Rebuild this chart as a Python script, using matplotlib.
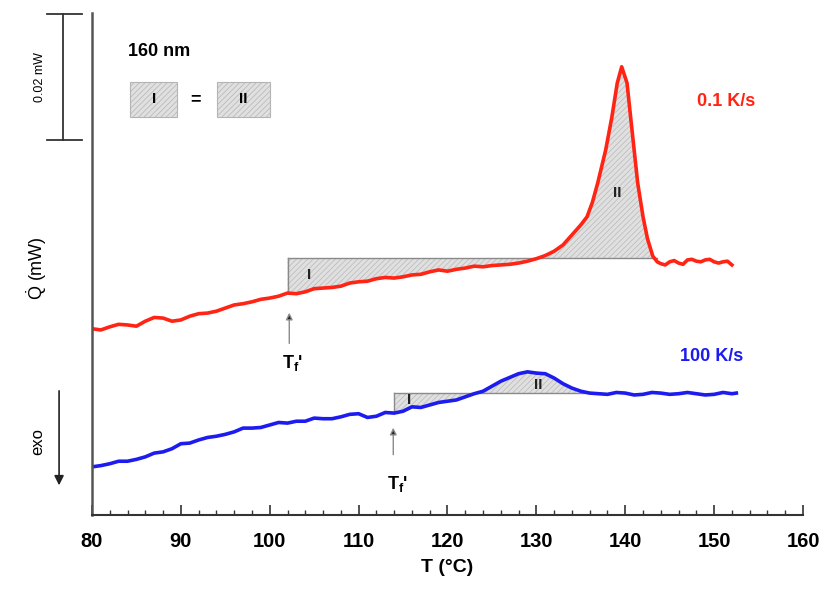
import numpy as np
import matplotlib
matplotlib.use("Agg")
import matplotlib.pyplot as plt
from matplotlib.patches import Rectangle

plt.rcParams['font.family'] = ['Liberation Sans', 'DejaVu Sans']
plt.rcParams['mathtext.fontset'] = 'custom'
plt.rcParams['mathtext.rm'] = 'Liberation Sans'
plt.rcParams['mathtext.it'] = 'Liberation Sans:italic'
plt.rcParams['mathtext.bf'] = 'Liberation Sans:bold'
plt.rcParams['hatch.linewidth'] = 0.5

# temperature (deg C) and heat flow (uW, relative)
temp_red = np.array([80, 81, 82, 83, 84, 85, 86, 87, 88, 89, 90, 91, 92, 93, 94, 95, 96, 97,
                     98, 99, 100, 101, 102, 103, 104, 105, 106, 107, 108, 109, 110, 111, 112,
                     113, 114, 115, 116, 117, 118, 119, 120, 121, 122, 123, 124, 125, 126,
                     127, 128, 129, 130, 131, 132, 133, 134, 135, 135.7, 136.3, 136.9, 137.8,
                     138.5, 139.1, 139.6, 140.2, 140.6, 141.0, 141.4, 142.0, 142.5, 143.1,
                     143.6, 144, 144.5, 145, 145.5, 146, 146.5, 147, 147.5, 148, 148.5, 149,
                     149.5, 150, 150.5, 151, 151.5, 152])
q_red = np.array([29.8, 29.6, 30.1, 30.5, 30.4, 30.2, 31.0, 31.6, 31.5, 31.0, 31.2, 31.8,
                  32.2, 32.3, 32.6, 33.1, 33.6, 33.8, 34.1, 34.5, 34.7, 35.0, 35.5, 35.4,
                  35.7, 36.2, 36.3, 36.4, 36.6, 37.1, 37.3, 37.4, 37.8, 38.0, 37.9, 38.1,
                  38.4, 38.5, 38.9, 39.2, 39.0, 39.3, 39.5, 39.8, 39.7, 39.9, 40.0, 40.1,
                  40.3, 40.6, 41.0, 41.5, 42.2, 43.2, 44.8, 46.4, 47.7, 50.0, 53.1, 58.4,
                  63.7, 69.1, 71.7, 69.1, 63.7, 58.4, 53.1, 47.7, 44.2, 41.4, 40.5, 40.2,
                  40.0, 40.5, 40.7, 40.3, 40.1, 40.8, 40.9, 40.6, 40.5, 40.8, 40.9, 40.5,
                  40.3, 40.5, 40.6, 40.0])

temp_blue = np.array([80, 81, 82, 83, 84, 85, 86, 87, 88, 89, 90, 91, 92, 93, 94, 95, 96, 97,
                      98, 99, 100, 101, 102, 103, 104, 105, 106, 107, 108, 109, 110, 111, 112,
                      113, 114, 115, 116, 117, 118, 119, 120, 121, 122, 123, 124, 125, 126,
                      127, 128, 129, 130, 131, 132, 133, 134, 135, 136, 137, 138, 139, 140,
                      141, 142, 143, 144, 145, 146, 147, 148, 149, 150, 151, 152, 152.5])
q_blue = np.array([7.7, 7.9, 8.2, 8.6, 8.6, 8.9, 9.3, 9.9, 10.1, 10.6, 11.4, 11.5, 12.0,
                   12.4, 12.6, 12.9, 13.3, 13.9, 13.9, 14.0, 14.4, 14.8, 14.7, 15.0, 15.0,
                   15.5, 15.4, 15.4, 15.7, 16.1, 16.2, 15.6, 15.8, 16.4, 16.3, 16.6, 17.3,
                   17.2, 17.6, 18.0, 18.2, 18.4, 18.9, 19.4, 19.8, 20.6, 21.4, 22.0, 22.6,
                   22.9, 22.7, 22.6, 21.9, 21.0, 20.3, 19.8, 19.5, 19.4, 19.3, 19.6, 19.5,
                   19.2, 19.3, 19.6, 19.5, 19.3, 19.4, 19.6, 19.4, 19.2, 19.3, 19.6, 19.4,
                   19.5])

# fictive temperatures and baselines used for area I / area II
tf_red, base_red, end_red = 102, 41.1, 143.6
tf_blue, base_blue, end_blue = 114, 19.5, 136

red = '#ff2414'
blue = '#1c1cf0'
fill_kw = dict(facecolor='#e0e0e0', edgecolor='#b8b8b8', hatch='//////', linewidth=0, interpolate=True)

fig = plt.figure(figsize=(8.33, 5.91), dpi=100)
ax = fig.add_axes([0.1104, 0.1286, 0.8536, 0.8494])


def shade(temp, q, tf, base, end):
    # area I (below baseline) and area II (above baseline) between tf and end
    sel = (temp >= tf) & (temp <= end)
    t, y = temp[sel], q[sel]
    ax.fill_between(t, y, base, where=y <= base, **fill_kw)
    ax.fill_between(t, y, base, where=y >= base, **fill_kw)
    ax.plot([tf, t[-1]], [base, base], color='#8a8a8a', lw=1)
    ax.plot([tf, tf], [base, y[0]], color='#8a8a8a', lw=1)


shade(temp_red, q_red, tf_red, base_red, end_red)
shade(temp_blue, q_blue, tf_blue, base_blue, end_blue)

# curves
ax.plot(temp_red, q_red, color=red, lw=2.6, solid_joinstyle='round')
ax.plot(temp_blue, q_blue, color=blue, lw=2.6, solid_joinstyle='round')

# area labels
for x, y in [(104.4, 38.4), (115.7, 18.4)]:
    ax.text(x, y, 'I', fontsize=11, fontweight='bold', color='#222222', ha='center', va='center')
for x, y in [(139.1, 51.5), (130.2, 20.8)]:
    ax.text(x, y, 'II', fontsize=11, fontweight='bold', color='#222222', ha='center', va='center')

# fictive temperature arrows
arr = dict(arrowstyle='-|>', ec='#8a8a8a', fc='#222222', lw=1, mutation_scale=10)
ax.annotate('', xy=(102.2, 32.8), xytext=(102.2, 27.0), arrowprops=arr)
ax.text(102.6, 24.3, r"$\mathbf{T_f}$'", fontsize=13, ha='center', va='center', fontweight='bold')
ax.annotate('', xy=(113.9, 14.4), xytext=(113.9, 9.2), arrowprops=arr)
ax.text(114.4, 5.0, r"$\mathbf{T_f}$'", fontsize=13, ha='center', va='center', fontweight='bold')

# rate labels
ax.text(151.4, 66.1, '0.1 K/s', color=red, fontsize=13, fontweight='bold', ha='center', va='center')
ax.text(149.7, 25.4, '100 K/s', color=blue, fontsize=13, fontweight='bold', ha='center', va='center')

# sample thickness and I = II key
ax.text(84.0, 74.1, '160 nm', fontsize=13, fontweight='bold', ha='left', va='center')
for x0, w, lab in [(84.3, 5.3, 'I'), (94.1, 5.9, 'II')]:
    ax.add_patch(Rectangle((x0, 63.7), w, 5.6, facecolor='#e0e0e0', edgecolor='#b4b4b4',
                           hatch='//////', lw=0.8))
    ax.text(x0 + w / 2, 66.5, lab, fontsize=11, fontweight='bold', ha='center', va='center')
ax.text(91.6, 66.5, '=', fontsize=13, fontweight='bold', ha='center', va='center')

# 0.02 mW scale bar
ax.plot([76.75, 76.75], [60, 80.2], color='#333333', lw=1.3, clip_on=False)
ax.plot([74.9, 78.9], [80.2, 80.2], color='#333333', lw=1.3, clip_on=False)
ax.plot([74.9, 78.9], [60, 60], color='#333333', lw=1.3, clip_on=False)
ax.text(74.2, 70, '0.02 mW', rotation=90, fontsize=9, ha='center', va='center')

# exo arrow
ax.annotate('', xy=(76.3, 4.3), xytext=(76.3, 20.3), annotation_clip=False,
            arrowprops=dict(arrowstyle='-|>', color='#222222', lw=1.2, mutation_scale=14))
ax.text(73.9, 11.8, 'exo', rotation=90, fontsize=12, ha='center', va='center')

ax.text(73.8, 39.5, r'$\dot{\mathrm{Q}}$ (mW)', rotation=90, fontsize=13, ha='center', va='center')

ax.set_xlim(80, 160)
ax.set_ylim(0, 80.3)
ax.set_xticks(np.arange(80, 161, 10))
ax.set_xticks(np.arange(80, 161, 2), minor=True)
ax.set_yticks([])
ax.tick_params(axis='x', which='major', direction='in', length=7, width=1.2, color='#333333',
               labelsize=14.5, pad=12)
ax.tick_params(axis='x', which='minor', direction='in', length=3.5, width=1, color='#333333')
for lab in ax.get_xticklabels():
    lab.set_fontweight('bold')
ax.set_xlabel('T (°C)', fontsize=14, fontweight='bold', labelpad=6)
ax.spines['top'].set_visible(False)
ax.spines['right'].set_visible(False)
ax.spines['left'].set_color('#555555')
ax.spines['bottom'].set_color('#333333')
ax.spines['left'].set_linewidth(1.8)
ax.spines['bottom'].set_linewidth(1.5)

fig.savefig('out.png', dpi=100)
